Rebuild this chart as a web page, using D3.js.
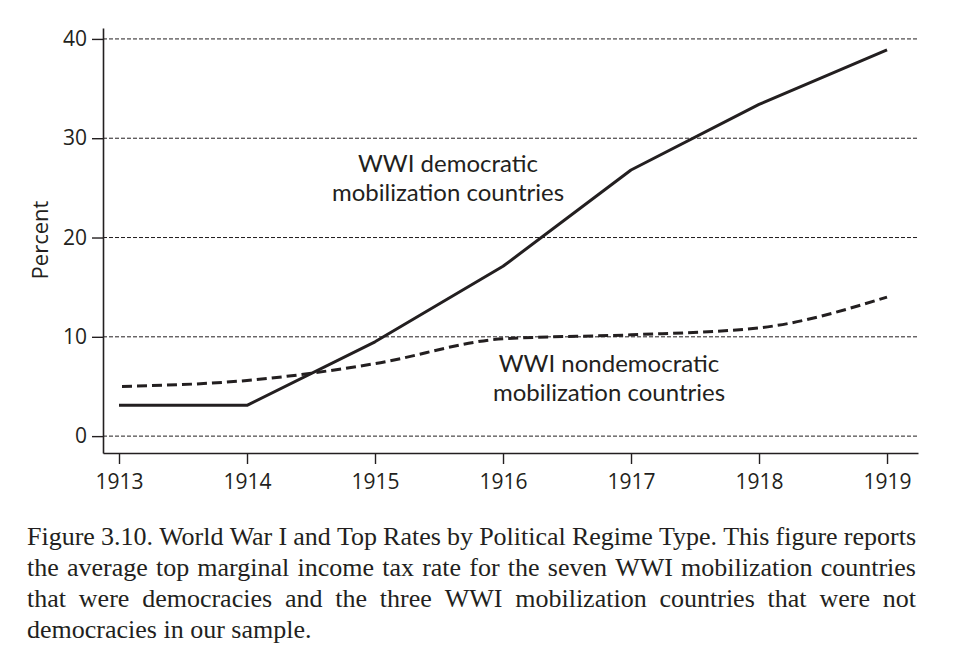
<!DOCTYPE html>
<html>
<head>
<meta charset="utf-8">
<script src="https://cdn.jsdelivr.net/npm/d3@7"></script>
<style>
  body { margin: 0; background: #fff; }
  svg { display: block; }
</style>
</head>
<body>
<svg id="chart" width="966" height="660"></svg>
<script>
const years = [1913, 1914, 1915, 1916, 1917, 1918, 1919];
const democratic = [3.1, 3.1, 9.5, 17.1, 26.8, 33.4, 38.9];
const nondemocratic = [5.0, 5.6, 7.3, 9.8, 10.2, 10.9, 14.0];
const yTicks = [0, 10, 20, 30, 40];
const yLabel = "Percent";
const demLabel = ["WWI democratic", "mobilization countries"];
const nondemLabel = ["WWI nondemocratic", "mobilization countries"];
const captionLines = [
  "Figure 3.10. World War I and Top Rates by Political Regime Type. This figure reports",
  "the average top marginal income tax rate for the seven WWI mobilization countries",
  "that were democracies and the three WWI mobilization countries that were not",
  "democracies in our sample."
];

const svg = d3.select("#chart");
const sans = "'Open Sans', 'Noto Sans', sans-serif";
const ink = "#231f20";

const x = d3.scaleLinear().domain([1912.875, 1919.242]).range([103, 918]);
const y = d3.scaleLinear().domain([-1.7, 41.1]).range([453, 28]);

// gridlines
svg.append("g").selectAll("line").data(yTicks).join("line")
  .attr("x1", 103).attr("x2", 917)
  .attr("y1", d => y(d)).attr("y2", d => y(d))
  .attr("stroke", ink).attr("stroke-width", 1)
  .attr("stroke-dasharray", "4,2");

// y axis
const yAxis = svg.append("g").attr("transform", "translate(103,0)")
  .call(d3.axisLeft(y).tickValues(yTicks).tickSizeInner(11).tickSizeOuter(0).tickPadding(5));
// x axis
const xAxis = svg.append("g").attr("transform", "translate(0,453)")
  .call(d3.axisBottom(x).tickValues(years).tickFormat(d3.format("d")).tickSizeInner(11).tickSizeOuter(0).tickPadding(8));

[yAxis, xAxis].forEach(g => {
  g.selectAll("path.domain").attr("stroke", ink).attr("stroke-width", 1.6);
  g.selectAll(".tick line").attr("stroke", ink).attr("stroke-width", 1.4);
  g.selectAll(".tick text").attr("fill", ink).style("font-family", sans).style("font-size", "21px");
});
xAxis.selectAll(".tick text").attr("dy", "0.82em");

// y axis label
svg.append("text")
  .attr("transform", "translate(48,240) rotate(-90)")
  .attr("text-anchor", "middle")
  .style("font-family", sans).style("font-size", "22px").attr("fill", ink)
  .text(yLabel);

// lines
const lineGen = d3.line().x((d, i) => x(years[i])).y(d => y(d));
svg.append("path").datum(democratic)
  .attr("d", lineGen)
  .attr("fill", "none").attr("stroke", ink).attr("stroke-width", 3)
  .attr("stroke-linejoin", "round");

const curveGen = d3.line().x((d, i) => x(years[i])).y(d => y(d)).curve(d3.curveMonotoneX);
svg.append("path").datum(nondemocratic)
  .attr("d", curveGen)
  .attr("fill", "none").attr("stroke", ink).attr("stroke-width", 3)
  .attr("stroke-dasharray", "10,5").attr("stroke-dashoffset", 12);

// series labels (one text element per line)
function label(lines, cx, y0) {
  lines.forEach((s, i) => svg.append("text").attr("text-anchor", "middle")
    .attr("x", cx).attr("y", y0 + i * 28.5)
    .style("font-family", "Lato, 'Open Sans', sans-serif").style("font-size", "24px").attr("fill", ink)
    .text(s));
}
label(demLabel, 448, 172);
label(nondemLabel, 609, 372);

// caption, justified
const serif = "'Liberation Serif', 'DejaVu Serif', serif";
const left = 27, right = 916;
captionLines.forEach((line, li) => {
  const words = line.split(" ");
  const g = svg.append("text").attr("y", 545 + li * 31)
    .style("font-family", serif).style("font-size", "26px").attr("fill", ink);
  const spans = words.map(w => g.append("tspan").text(w));
  const widths = spans.map(s => s.node().getComputedTextLength());
  const total = d3.sum(widths);
  const justify = li < captionLines.length - 1;
  const gap = justify ? (right - left - total) / (words.length - 1) : 6.5;
  let cx = left;
  spans.forEach((s, i) => { s.attr("x", cx); cx += widths[i] + gap; });
});
</script>
</body>
</html>
